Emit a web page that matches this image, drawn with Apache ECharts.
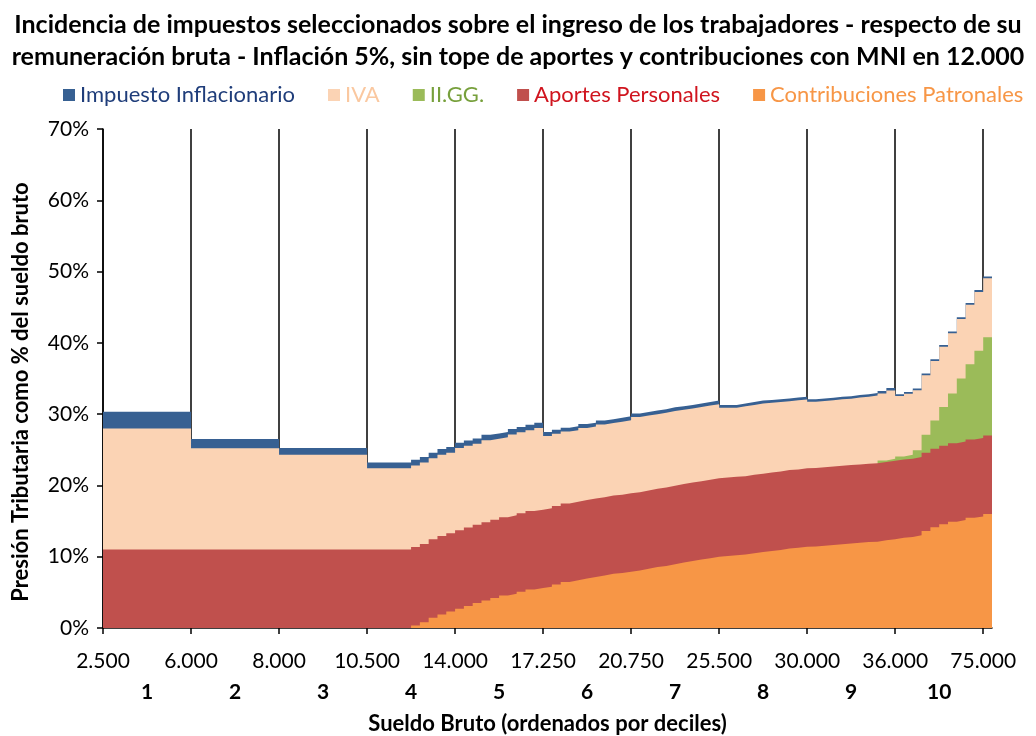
<!DOCTYPE html>
<html>
<head>
<meta charset="utf-8">
<script src="https://cdn.jsdelivr.net/npm/echarts@6/dist/echarts.min.js"></script>
<style>
html,body{margin:0;padding:0;background:#fff;}
#chartmain{width:1036px;height:736px;}
</style>
</head>
<body>
<div id="chartmain"></div>
<script>
/* limites de cada decil (sueldo bruto) y numero de decil */
var sueldos = ['2.500','6.000','8.000','10.500','14.000','17.250','20.750','25.500','30.000','36.000','75.000'];
var deciles = ['1','2','3','4','5','6','7','8','9','10'];

/* valores en % del sueldo bruto, 10 escalones por decil + 1 final */
var contribPatronales = [
    0,0,0,0,0,0,0,0,0,0,
    0,0,0,0,0,0,0,0,0,0,
    0,0,0,0,0,0,0,0,0,0,
    0,0,0,0,0,0.35,0.8,1.45,1.9,2.3,
    2.7,3.1,3.5,3.85,4.2,4.55,4.8,5.1,5.4,5.6,
    5.8,6.1,6.45,6.7,6.95,7.15,7.35,7.6,7.7,7.9,
    8.05,8.3,8.55,8.7,8.95,9.2,9.4,9.6,9.8,10.0,
    10.1,10.2,10.3,10.5,10.65,10.8,10.95,11.15,11.25,11.4,
    11.45,11.55,11.65,11.75,11.85,11.95,12.05,12.1,12.3,12.45,
    12.65,12.75,13.0,13.6,14.15,14.55,14.9,15.15,15.45,15.65,16.0
];
var aportesPersonales = [
    11,11,11,11,11,11,11,11,11,11,
    11,11,11,11,11,11,11,11,11,11,
    11,11,11,11,11,11,11,11,11,11,
    11,11,11,11,11,11,11,11,11,11,
    11,11,11,11,11,11,11,11,11,11,
    11,11,11,11,11,11,11,11,11,11,
    11,11,11,11,11,11,11,11,11,11,
    11,11,11,11,11,11,11,11,11,11,
    11,11,11,11,11,11,11,11,11,11,
    11,11,11,11,11,11,11,11,11,11,11
];
var iigg = [
    0,0,0,0,0,0,0,0,0,0,
    0,0,0,0,0,0,0,0,0,0,
    0,0,0,0,0,0,0,0,0,0,
    0,0,0,0,0,0,0,0,0,0,
    0,0,0,0,0,0,0,0,0,0,
    0,0,0,0,0,0,0,0,0,0,
    0,0,0,0,0,0,0,0,0,0,
    0,0,0,0,0,0,0,0,0,0,
    0,0,0,0,0,0,0,0,0.2,0.3,
    0.4,0.55,0.95,2.5,3.95,5.45,7.0,8.85,10.55,12.25,13.8
];
var iva = [
    17,17,17,17,17,17,17,17,17,17,
    14.2,14.2,14.2,14.2,14.2,14.2,14.2,14.2,14.2,14.2,
    13.3,13.3,13.3,13.3,13.3,13.3,13.3,13.3,13.3,13.3,
    11.4,11.4,11.4,11.4,11.4,11.45,11.4,11.35,11.4,11.3,
    11.55,11.45,11.35,11.5,11.35,11.2,11.35,11.35,11.35,11.45,
    10.15,10.15,10.1,10.05,10.1,10.1,10.2,10.15,10.25,10.25,
    10.55,10.5,10.45,10.5,10.5,10.4,10.4,10.4,10.4,10.4,
    9.8,9.7,9.8,9.8,9.85,9.8,9.75,9.65,9.7,9.65,
    9.3,9.3,9.3,9.35,9.3,9.4,9.4,9.5,9.4,9.55,
    8.5,8.55,8.4,8.35,8.35,8.45,8.45,8.35,8.35,8.25,8.25
];
var inflacionario = [
    2.35,2.35,2.35,2.35,2.35,2.35,2.35,2.35,2.35,2.35,
    1.3,1.3,1.3,1.3,1.3,1.3,1.3,1.3,1.3,1.3,
    0.95,0.95,0.95,0.95,0.95,0.95,0.95,0.95,0.95,0.95,
    0.8,0.8,0.8,0.8,0.8,0.8,0.8,0.8,0.8,0.8,
    0.75,0.75,0.75,0.75,0.75,0.75,0.75,0.75,0.75,0.75,
    0.55,0.55,0.55,0.55,0.55,0.55,0.55,0.55,0.55,0.55,
    0.5,0.5,0.5,0.5,0.5,0.5,0.5,0.5,0.5,0.5,
    0.4,0.4,0.4,0.4,0.4,0.4,0.4,0.4,0.4,0.4,
    0.35,0.35,0.35,0.35,0.35,0.35,0.35,0.35,0.35,0.35,
    0.25,0.25,0.25,0.25,0.25,0.25,0.25,0.25,0.25,0.25,0.25
];

var nPasos = contribPatronales.length;
// bordes de escalon: nPasos + 1 puntos sobre el eje
var puntos = [];
for (var i = 0; i <= nPasos; i++) { puntos.push('b' + i); }
// posiciones de los bordes de decil y centros (en escalones)
var bordes = [];
for (var b = 0; b < sueldos.length; b++) { bordes.push(b * 10); }
var centros = [];
for (var c = 0; c < deciles.length; c++) { centros.push(c * 10 + 5); }

var fuente = 'Lato';
var colores = {
    infl: '#376092',
    iva: '#FBD3B4',
    iigg: '#9BBB59',
    aportes: '#C0504D',
    contrib: '#F79646'
};

/*
 * Se apila a mano: cada capa es un area desde 0 hasta su acumulado,
 * y se dibujan de la mas alta a la mas baja (sin costuras blancas).
 */
var capas = [contribPatronales, aportesPersonales, iigg, iva, inflacionario];
var acumulados = [];
var suma = [];
for (var k = 0; k < nPasos; k++) { suma.push(0); }
for (var ci = 0; ci < capas.length; ci++) {
    var fila = [];
    for (var k2 = 0; k2 < nPasos; k2++) {
        suma[k2] = suma[k2] + capas[ci][k2];
        // donde la capa vale 0 no se dibuja nada
        fila.push(capas[ci][k2] === 0 ? '-' : Math.round(suma[k2] * 100) / 100);
    }
    fila.push(fila[fila.length - 1]);
    acumulados.push(fila);
}

// area escalonada: cada valor ocupa un escalon [k, k+1]
var serieArea = function(nombre, datos, color) {
    return {
        name: nombre,
        type: 'line',
        step: 'end',
        xAxisIndex: 0,
        symbol: 'none',
        data: datos,
        lineStyle: { width: 0 },
        itemStyle: { color: color },
        areaStyle: { color: color, opacity: 1, origin: 'start' },
        emphasis: { disabled: true }
    };
};

var chart = echarts.init(document.getElementById('chartmain'));
chart.setOption({
    animation: false,
    textStyle: { fontFamily: fuente },
    title: {
        text: 'Incidencia de impuestos seleccionados sobre el ingreso de los trabajadores - respecto de su\nremuneración bruta - Inflación 5%, sin tope de aportes y contribuciones con MNI en 12.000',
        left: 'center',
        top: 4,
        textStyle: { fontFamily: fuente, fontSize: 25, fontWeight: 'bold', color: '#000', lineHeight: 32 }
    },
    legend: {
        top: 79,
        left: 58,
        icon: 'rect',
        itemWidth: 12,
        itemHeight: 12,
        itemGap: 33,
        textStyle: { fontFamily: fuente, fontSize: 22 },
        data: [
            { name: 'Impuesto Inflacionario', textStyle: { color: '#1F3D7A' } },
            { name: 'IVA', textStyle: { color: '#FAC8A0' } },
            { name: 'II.GG.', textStyle: { color: '#77A03C' } },
            { name: 'Aportes Personales', textStyle: { color: '#D0141E' } },
            { name: 'Contribuciones Patronales', textStyle: { color: '#F79646' } }
        ]
    },
    grid: { left: 103, right: 44, top: 129, bottom: 108, outerBoundsMode: 'none' },
    // titulo del eje Y, algo mas abajo que el centro del area
    graphic: [{
        type: 'text',
        x: 21,
        y: 392,
        rotation: Math.PI / 2,
        style: {
            text: 'Presión Tributaria como % del sueldo bruto',
            fill: '#000',
            font: 'bold 22px Lato',
            align: 'center',
            verticalAlign: 'middle'
        }
    }],
    xAxis: [
        { type: 'category', data: puntos, boundaryGap: false, show: false },
        {
            type: 'value', min: 0, max: nPasos, position: 'bottom',
            axisLine: { show: true, lineStyle: { color: '#000', width: 1.5 } },
            axisTick: { show: true, customValues: bordes, length: 6, lineStyle: { color: '#000', width: 1.5 } },
            splitLine: { show: true, lineStyle: { color: '#000', width: 1.5 } },
            axisLabel: {
                customValues: bordes, margin: 23, fontSize: 21, color: '#000', fontFamily: fuente,
                formatter: function(v) { return sueldos[Math.round(v / 10)] || ''; }
            }
        },
        {
            type: 'value', min: 0, max: nPasos, position: 'bottom', offset: 40,
            axisLine: { show: false }, axisTick: { show: false }, splitLine: { show: false },
            axisLabel: {
                customValues: centros, margin: 14, fontSize: 21, fontWeight: 'bold', color: '#000', fontFamily: fuente,
                formatter: function(v) { return deciles[Math.floor(v / 10)] || ''; }
            },
            name: 'Sueldo Bruto (ordenados por deciles)',
            nameLocation: 'middle',
            nameGap: 45,
            nameTextStyle: { fontFamily: fuente, fontSize: 22, fontWeight: 'bold', color: '#000' }
        }
    ],
    yAxis: {
        type: 'value', min: 0, max: 70, interval: 10,
        axisLine: { show: true, lineStyle: { color: '#000', width: 1.5 } },
        axisTick: { show: true, length: 6, lineStyle: { color: '#000', width: 1.5 } },
        splitLine: { show: false },
        axisLabel: { formatter: '{value}%', margin: 14, fontSize: 21, color: '#000', fontFamily: fuente }
    },
    // orden de dibujo: de la capa superior a la inferior
    series: [
        serieArea('Impuesto Inflacionario', acumulados[4], colores.infl),
        serieArea('IVA', acumulados[3], colores.iva),
        serieArea('II.GG.', acumulados[2], colores.iigg),
        serieArea('Aportes Personales', acumulados[1], colores.aportes),
        serieArea('Contribuciones Patronales', acumulados[0], colores.contrib)
    ]
});
</script>
</body>
</html>
